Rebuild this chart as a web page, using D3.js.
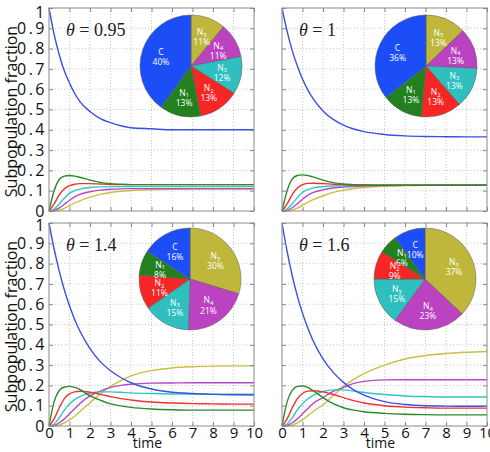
<!DOCTYPE html>
<html>
<head>
<meta charset="utf-8">
<script src="https://cdn.jsdelivr.net/npm/d3@7"></script>
<style>
  body { margin: 0; background: #fff; }
  svg { display: block; }
</style>
</head>
<body>
<div id="chart"></div>
<script>
// sample times
const times = [0, 0.25, 0.5, 0.75, 1, 1.25, 1.5, 2, 2.5, 3, 3.5, 4, 5, 6, 7, 8, 9, 10];

// theta = 0.95
const C_095  = [1, 0.87, 0.77, 0.69, 0.63, 0.58, 0.54, 0.49, 0.455, 0.435, 0.42, 0.41, 0.405, 0.40, 0.40, 0.40, 0.40, 0.40];
const N1_095 = [0, 0.10, 0.155, 0.172, 0.175, 0.172, 0.166, 0.152, 0.141, 0.135, 0.132, 0.13, 0.13, 0.13, 0.13, 0.13, 0.13, 0.13];
const N2_095 = [0, 0.035, 0.08, 0.11, 0.125, 0.132, 0.135, 0.135, 0.133, 0.131, 0.13, 0.13, 0.13, 0.13, 0.13, 0.13, 0.13, 0.13];
const N3_095 = [0, 0.01, 0.035, 0.063, 0.088, 0.10, 0.108, 0.116, 0.119, 0.12, 0.12, 0.12, 0.12, 0.12, 0.12, 0.12, 0.12, 0.12];
const N4_095 = [0, 0.003, 0.015, 0.033, 0.053, 0.07, 0.082, 0.095, 0.103, 0.107, 0.109, 0.11, 0.11, 0.11, 0.11, 0.11, 0.11, 0.11];
const N5_095 = [0, 0, 0.005, 0.013, 0.027, 0.04, 0.05, 0.068, 0.082, 0.091, 0.097, 0.101, 0.105, 0.107, 0.108, 0.108, 0.108, 0.108];

// theta = 1
const C_1  = [1, 0.885, 0.79, 0.714, 0.65, 0.598, 0.556, 0.493, 0.451, 0.423, 0.404, 0.391, 0.377, 0.37, 0.367, 0.366, 0.365, 0.365];
const N1_1 = [0, 0.10, 0.158, 0.175, 0.178, 0.175, 0.168, 0.152, 0.14, 0.133, 0.13, 0.128, 0.127, 0.127, 0.127, 0.127, 0.127, 0.127];
const N2_1 = [0, 0.035, 0.082, 0.113, 0.13, 0.136, 0.137, 0.135, 0.132, 0.13, 0.128, 0.128, 0.127, 0.127, 0.127, 0.127, 0.127, 0.127];
const N3_1 = [0, 0.01, 0.036, 0.066, 0.092, 0.105, 0.113, 0.12, 0.123, 0.124, 0.125, 0.126, 0.127, 0.127, 0.127, 0.127, 0.127, 0.127];
const N4_1 = [0, 0.003, 0.016, 0.036, 0.058, 0.077, 0.09, 0.104, 0.113, 0.118, 0.121, 0.123, 0.125, 0.126, 0.127, 0.127, 0.127, 0.127];
const N5_1 = [0, 0, 0.005, 0.014, 0.029, 0.043, 0.055, 0.075, 0.092, 0.103, 0.111, 0.116, 0.122, 0.125, 0.126, 0.127, 0.127, 0.127];

// theta = 1.4
const C_14  = [1, 0.872, 0.763, 0.67, 0.592, 0.525, 0.469, 0.381, 0.317, 0.272, 0.239, 0.213, 0.182, 0.166, 0.16, 0.156, 0.154, 0.153];
const N1_14 = [0, 0.12, 0.175, 0.192, 0.195, 0.19, 0.18, 0.148, 0.127, 0.109, 0.099, 0.092, 0.084, 0.08, 0.078, 0.078, 0.078, 0.078];
const N2_14 = [0, 0.035, 0.09, 0.135, 0.158, 0.168, 0.171, 0.166, 0.156, 0.145, 0.135, 0.128, 0.118, 0.113, 0.11, 0.109, 0.108, 0.108];
const N3_14 = [0, 0.01, 0.04, 0.078, 0.108, 0.13, 0.145, 0.162, 0.168, 0.168, 0.166, 0.163, 0.16, 0.158, 0.157, 0.157, 0.157, 0.157];
const N4_14 = [0, 0.003, 0.016, 0.035, 0.06, 0.085, 0.11, 0.148, 0.172, 0.19, 0.20, 0.206, 0.211, 0.212, 0.213, 0.213, 0.213, 0.213];
const N5_14 = [0, 0, 0.005, 0.015, 0.03, 0.048, 0.07, 0.115, 0.158, 0.195, 0.224, 0.247, 0.273, 0.286, 0.292, 0.295, 0.296, 0.296];

// theta = 1.6
const C_16  = [1, 0.86, 0.74, 0.64, 0.556, 0.485, 0.424, 0.331, 0.264, 0.215, 0.178, 0.152, 0.12, 0.106, 0.10, 0.098, 0.097, 0.097];
const N1_16 = [0, 0.12, 0.175, 0.195, 0.197, 0.19, 0.175, 0.14, 0.11, 0.09, 0.078, 0.07, 0.062, 0.058, 0.056, 0.055, 0.055, 0.055];
const N2_16 = [0, 0.035, 0.09, 0.135, 0.16, 0.172, 0.174, 0.168, 0.155, 0.14, 0.125, 0.113, 0.10, 0.093, 0.09, 0.088, 0.088, 0.088];
const N3_16 = [0, 0.01, 0.04, 0.08, 0.11, 0.133, 0.15, 0.17, 0.178, 0.178, 0.172, 0.165, 0.155, 0.148, 0.145, 0.143, 0.143, 0.143];
const N4_16 = [0, 0.003, 0.016, 0.035, 0.06, 0.085, 0.11, 0.14, 0.17, 0.19, 0.21, 0.22, 0.227, 0.228, 0.228, 0.228, 0.228, 0.228];
const N5_16 = [0, 0, 0.005, 0.015, 0.03, 0.05, 0.07, 0.105, 0.15, 0.195, 0.23, 0.258, 0.30, 0.33, 0.347, 0.357, 0.363, 0.367];

// pie shares in percent: C, N1..N5
const pie095 = [40, 13, 13, 12, 11, 11];
const pie1   = [36, 13, 13, 13, 13, 13];
const pie14  = [16, 8, 11, 15, 21, 30];
const pie16  = [10, 6, 9, 15, 23, 37];

const seriesNames = ["C", "N1", "N2", "N3", "N4", "N5"];
const thetaLabels = ["0.95", "1", "1.4", "1.6"];
const xTicks = [0, 1, 2, 3, 4, 5, 6, 7, 8, 9, 10];
const yTicks = [0, 0.1, 0.2, 0.3, 0.4, 0.5, 0.6, 0.7, 0.8, 0.9, 1];

const panelSeries = [
  [C_095, N1_095, N2_095, N3_095, N4_095, N5_095],
  [C_1, N1_1, N2_1, N3_1, N4_1, N5_1],
  [C_14, N1_14, N2_14, N3_14, N4_14, N5_14],
  [C_16, N1_16, N2_16, N3_16, N4_16, N5_16]
];
const panelPies = [pie095, pie1, pie14, pie16];

const lineColors = ["#3b4fe0", "#2a8a2a", "#f03030", "#33c4c4", "#b548c8", "#c8c040"];
const wedgeColors = ["#1b4ef6", "#22801f", "#f52624", "#2ebfbe", "#bb43c2", "#bfb73b"];

const W = 490, H = 452;
const panelW = 205, panelH = 203;
const panelPos = [[49, 8], [282, 8], [49, 223], [282, 223]];
const pieOffset = [[142, 58], [144, 58], [141, 56], [143, 56]];
const pieR = 51;

const svg = d3.select("#chart").append("svg")
  .attr("width", W)
  .attr("height", H);

const x = d3.scaleLinear().domain([0, 10]).range([0, panelW]);
const y = d3.scaleLinear().domain([0, 1]).range([panelH, 0]);

const line = d3.line()
  .x((d) => x(d[0]))
  .y((d) => y(d[1]))
  .curve(d3.curveMonotoneX);

const pie = d3.pie().sort(null).value((d) => d.v);
const arc = d3.arc().innerRadius(0).outerRadius(pieR);
const labelArc = d3.arc().innerRadius(pieR * 0.62).outerRadius(pieR * 0.62);

panelSeries.forEach(function (series, p) {
  const g = svg.append("g")
    .attr("transform", "translate(" + panelPos[p][0] + "," + panelPos[p][1] + ")");

  // dotted grid
  g.append("g").selectAll("line.vg")
    .data(xTicks.slice(1, -1))
    .enter().append("line")
    .attr("x1", (d) => x(d)).attr("x2", (d) => x(d))
    .attr("y1", 0).attr("y2", panelH)
    .attr("stroke", "#bdbdbd").attr("stroke-width", 0.8)
    .attr("stroke-dasharray", "1,2");
  g.append("g").selectAll("line.hg")
    .data(yTicks.slice(1, -1))
    .enter().append("line")
    .attr("x1", 0).attr("x2", panelW)
    .attr("y1", (d) => y(d)).attr("y2", (d) => y(d))
    .attr("stroke", "#bdbdbd").attr("stroke-width", 0.8)
    .attr("stroke-dasharray", "1,2");

  // curves, N5 drawn first so C ends up on top
  const order = [5, 4, 3, 2, 1, 0];
  order.forEach(function (k) {
    g.append("path")
      .datum(times.map((t, i) => [t, series[k][i]]))
      .attr("fill", "none")
      .attr("stroke", lineColors[k])
      .attr("stroke-width", 1.4)
      .attr("d", line);
  });

  // ticks pointing inward on all four sides
  const axL = d3.axisLeft(y).tickValues(yTicks).tickSize(-4)
    .tickFormat(p % 2 === 0 ? d3.format("~g") : () => "");
  const axR = d3.axisRight(y).tickValues(yTicks).tickSize(-4).tickFormat(() => "");
  const axB = d3.axisBottom(x).tickValues(xTicks).tickSize(-4)
    .tickFormat(p >= 2 ? d3.format("d") : () => "");
  const axT = d3.axisTop(x).tickValues(xTicks).tickSize(-4).tickFormat(() => "");

  const styleAxis = function (sel) {
    sel.select(".domain").remove();
    sel.selectAll("line").attr("stroke", "#888");
    sel.selectAll("text")
      .attr("fill", "#111")
      .style("font-family", "'Open Sans', sans-serif")
      .style("font-size", "15px");
  };
  const left = g.append("g").call(axL).call(styleAxis);
  left.selectAll("text")
    .attr("x", -2)
    .style("font-size", "16px")
    .style("letter-spacing", "2.5px");
  // top labels sit a little low, as in the original (upper row would be clipped)
  left.selectAll("text").filter((d) => d === 1).attr("dy", p < 2 ? "0.62em" : "0.45em");
  g.append("g").attr("transform", "translate(" + panelW + ",0)").call(axR).call(styleAxis);
  g.append("g").attr("transform", "translate(0," + panelH + ")").call(axB).call(styleAxis)
    .selectAll("text").attr("y", 1);
  g.append("g").call(axT).call(styleAxis);

  g.append("rect")
    .attr("width", panelW).attr("height", panelH)
    .attr("fill", "none").attr("stroke", "#8a8a8a").attr("stroke-width", 1);

  // theta label
  const th = g.append("text")
    .attr("x", 17).attr("y", 28)
    .style("font-family", "'Liberation Serif', 'DejaVu Serif', serif")
    .style("font-size", "18px")
    .attr("fill", "#222");
  th.append("tspan").style("font-style", "italic").text("\u03b8");
  th.append("tspan").text(" = " + thetaLabels[p]);

  // pie: clockwise from 12 o'clock N5..N1 then C
  const pieData = seriesNames.map((n, i) => ({ name: n, v: panelPies[p][i], k: i })).reverse();
  const pg = g.append("g")
    .attr("transform", "translate(" + pieOffset[p][0] + "," + pieOffset[p][1] + ")");
  const arcs = pie(pieData);
  pg.selectAll("path.wedge")
    .data(arcs)
    .enter().append("path")
    .attr("class", "wedge")
    .attr("d", arc)
    .attr("fill", (d) => wedgeColors[d.data.k])
    .attr("stroke", "#5a5a5a")
    .attr("stroke-width", 0.5);

  const lab = pg.selectAll("text.lab")
    .data(arcs)
    .enter().append("text")
    .attr("class", "lab")
    .attr("transform", (d) => "translate(" + labelArc.centroid(d) + ")")
    .attr("text-anchor", "middle")
    .attr("fill", "#fff")
    .style("font-family", "'Open Sans', sans-serif")
    .style("font-size", "8.5px");
  lab.each(function (d) {
    const t = d3.select(this);
    const first = t.append("tspan").attr("x", 0).attr("dy", "-0.15em");
    first.append("tspan").text(d.data.name.charAt(0));
    if (d.data.name.length > 1) {
      first.append("tspan").attr("dy", "0.3em").style("font-size", "6px").text(d.data.name.slice(1));
    }
    t.append("tspan").attr("x", 0).attr("y", "1.05em").text(d.data.v + "%");
  });
});

// shared axis titles
[0, 2].forEach(function (p) {
  svg.append("text")
    .attr("transform", "translate(17," + (panelPos[p][1] + panelH / 2 + 2) + ") rotate(-90)")
    .attr("text-anchor", "middle")
    .style("font-family", "'Open Sans', sans-serif")
    .style("font-size", "16px")
    .attr("fill", "#111")
    .text("Subpopulation fraction");
});
[2, 3].forEach(function (p) {
  svg.append("text")
    .attr("x", panelPos[p][0] + panelW / 2 - 4)
    .attr("y", 448)
    .attr("text-anchor", "middle")
    .style("font-family", "'Open Sans', sans-serif")
    .style("font-size", "14px")
    .attr("fill", "#111")
    .text("time");
});
</script>
</body>
</html>
